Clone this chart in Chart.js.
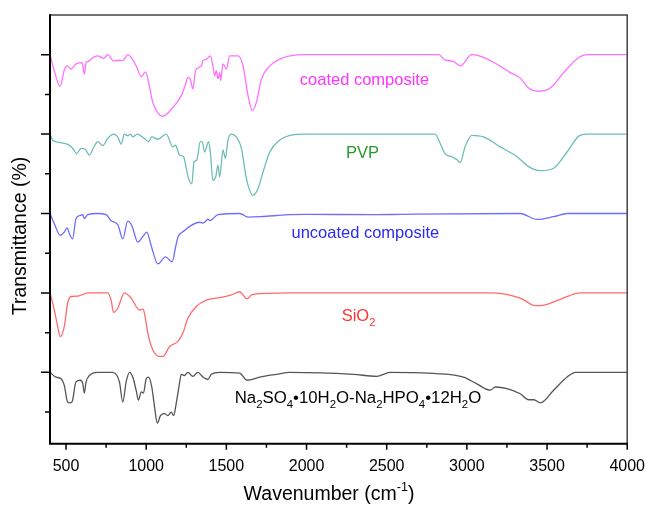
<!DOCTYPE html>
<html><head><meta charset="utf-8">
<script src="https://cdn.jsdelivr.net/npm/chart.js@4.4.1/dist/chart.umd.min.js"></script>
<style>html,body{margin:0;padding:0;background:#fff}#wrap{width:646px;height:505px}</style>
</head><body><div id="wrap"><canvas id="c" width="646" height="505"></canvas></div>
<script>
// ---- data (wavenumber in cm-1, relative transmittance drop in tick units) ----
const seriesNames = ["coated composite", "PVP", "uncoated composite", "SiO2", "Na2SO4•10H2O-Na2HPO4•12H2O"];
const seriesOffsets = [10, 8, 6, 4, 2];
const seriesColors = ["#ff70ff", "#6dbdb5", "#6e6eff", "#ff6b6b", "#555555"];

const coatedWn = [400,430,462,490,506,531,562,600,614,625,635,665,697,735,760,797,830,854,885,910,940,969,996,1020,1041,1070,1104,1166,1219,1245,1260,1275,1291,1308,1344,1354,1375,1400,1416,1427,1437,1448,1458,1464,1479,1500,1521,1573,1604,1635,1662,1687,1719,1771,1833,1896,2000,2823,2864,2916,2958,3031,3100,3166,3271,3333,3385,3448,3521,3604,3698,3750,4000];
const coatedT  = [0,-0.45,-0.80,-0.38,-0.28,-0.36,-0.23,-0.2,-0.49,-0.2,-0.18,-0.08,-0.03,-0.09,0,-0.16,-0.14,-0.15,0,-0.09,-0.3,-0.55,-0.43,-0.8,-1.2,-1.45,-1.55,-1.33,-1.03,-0.75,-0.57,-0.62,-0.86,-0.40,-0.28,-0.15,-0.12,-0.03,-0.28,-0.53,-0.4,-0.61,-0.45,-0.65,-0.23,-0.36,-0.03,-0.03,-0.28,-1.03,-1.41,-1.2,-0.61,-0.28,-0.11,-0.03,0,0,-0.13,-0.17,-0.28,0,-0.06,-0.19,-0.45,-0.59,-0.84,-0.92,-0.84,-0.45,-0.07,0,0];

const pvpWn = [400,416,458,510,540,566,594,619,646,670,698,729,760,797,822,844,864,885,902,916,944,989,1014,1035,1073,1100,1125,1166,1183,1208,1233,1250,1264,1285,1298,1316,1337,1350,1364,1389,1400,1416,1433,1448,1458,1479,1494,1510,1531,1562,1594,1625,1666,1698,1729,1771,1833,1896,2000,2802,2833,2864,2906,2937,2958,2989,3031,3104,3208,3313,3385,3458,3541,3625,3698,3750,4000];
const pvpT  = [0,-0.15,-0.21,-0.26,-0.35,-0.49,-0.36,-0.38,-0.53,-0.35,-0.19,-0.29,-0.11,0,-0.07,-0.25,0,-0.04,0,-0.07,0,-0.11,-0.19,-0.07,-0.13,-0.06,0,-0.32,-0.28,-0.53,-0.57,-0.86,-1.12,-1.25,-0.70,-0.65,-0.19,-0.2,-0.45,-0.19,-0.45,-1.16,-1.08,-0.78,-1.08,-0.40,-0.61,-0.15,0,-0.07,-0.36,-1.12,-1.54,-1.37,-0.95,-0.45,-0.15,-0.03,0,0,-0.23,-0.49,-0.57,-0.64,-0.72,-0.32,-0.03,-0.07,-0.32,-0.57,-0.82,-0.92,-0.86,-0.45,-0.05,0,0];

const uncoatedWn = [400,427,464,489,506,521,541,562,589,604,614,635,697,750,781,823,854,885,910,948,979,1004,1031,1073,1120,1162,1183,1198,1239,1281,1333,1354,1375,1385,1396,1448,1583,1635,1708,1812,1896,2000,2400,2600,3333,3438,3541,3625,4000];
const uncoatedT  = [0,-0.26,-0.55,-0.47,-0.36,-0.51,-0.64,-0.13,-0.05,-0.03,-0.13,-0.03,0,-0.03,-0.18,-0.28,-0.64,-0.19,-0.30,-0.72,-0.58,-0.47,-0.81,-1.27,-1.09,-1.22,-0.85,-0.60,-0.43,-0.30,-0.22,-0.24,-0.18,-0.14,-0.18,-0.03,0,-0.09,-0.08,-0.05,-0.03,-0.02,-0.03,-0.02,0,-0.15,-0.08,0,0];

const silicaWn = [400,427,448,464,489,510,531,573,635,760,781,797,823,864,906,958,979,989,1010,1041,1083,1104,1146,1198,1229,1260,1312,1375,1458,1531,1583,1604,1629,1656,1750,1896,3146,3333,3427,3458,3583,3708,4000];
const silicaT  = [0,-0.43,-0.85,-1.10,-0.85,-0.26,-0.09,-0.08,0,0,-0.18,-0.49,-0.38,0,-0.13,-0.43,-0.41,-0.51,-1.01,-1.43,-1.60,-1.60,-1.35,-1.22,-1.01,-0.64,-0.34,-0.18,-0.12,-0.05,0.03,-0.05,-0.15,-0.05,-0.01,0,0,-0.13,-0.32,-0.32,-0.16,0,0];

const saltWn = [400,437,469,489,510,527,539,562,589,604,614,625,646,697,791,833,854,875,896,916,937,952,969,983,1000,1014,1035,1052,1069,1089,1114,1135,1156,1171,1187,1204,1219,1239,1260,1291,1322,1354,1385,1406,1458,1583,1629,1708,1812,1896,2291,2437,2521,2812,2979,3062,3146,3177,3250,3333,3385,3417,3458,3541,3625,3677,4000];
const saltT  = [0,-0.12,-0.16,-0.33,-0.75,-0.77,-0.73,-0.24,-0.20,-0.28,-0.52,-0.24,-0.08,0,0,-0.24,-0.75,-0.24,0,-0.12,-0.45,-0.70,-0.49,-0.52,-0.16,-0.12,-0.37,-0.87,-1.28,-1.09,-1.04,-1.09,-1.0,-1.09,-0.79,-0.37,-0.05,-0.08,0,-0.10,0,-0.12,-0.18,-0.05,0,-0.02,-0.20,-0.12,-0.05,0,-0.05,-0.10,0,-0.03,-0.12,-0.29,-0.45,-0.37,-0.41,-0.54,-0.69,-0.69,-0.77,-0.45,-0.12,0,0];

const xTickMajor = [500,1000,1500,2000,2500,3000,3500,4000];
const xTickMinor = [750,1250,1750,2250,2750,3250,3750];
const yTickValues = [1,2,3,4,5,6,7,8,9,10];

// in-plot labels: segments [text, isSubscript]
const labelSegments = [
  [["coated composite",0]],
  [["PVP",0]],
  [["uncoated composite",0]],
  [["SiO",0],["2",1]],
  [["Na",0],["2",1],["SO",0],["4",1],["•10H",0],["2",1],["O-Na",0],["2",1],["HPO",0],["4",1],["•12H",0],["2",1],["O",0]]
];
const labelWn = [1958, 2246, 1906, 2219, 1552];
const labelY = [9.36, 7.52, 5.49, 3.40, 1.35];
const labelColors = ["#ff33ff", "#269a26", "#2a2aee", "#ff3333", "#000000"];
const labelSizes = [16.5, 16.5, 16.5, 16.5, 16.8];

const wnLists = [coatedWn, pvpWn, uncoatedWn, silicaWn, saltWn];
const tLists = [coatedT, pvpT, uncoatedT, silicaT, saltT];

const FONT = 'Arial, "Liberation Sans", sans-serif';

const datasets = seriesNames.map((name, s) => ({
  label: name,
  data: wnLists[s].map((w, i) => ({x: w, y: seriesOffsets[s] + tLists[s][i]})),
  borderColor: seriesColors[s],
  borderWidth: 1.3,
  pointRadius: 0,
  fill: false,
  cubicInterpolationMode: 'monotone'
}));

function drawSegments(ctx, segs, x, y, size, color) {
  ctx.fillStyle = color;
  ctx.textBaseline = 'middle';
  ctx.textAlign = 'left';
  let cx = x;
  for (const [t, sub] of segs) {
    if (sub) {
      ctx.font = (size * 0.68).toFixed(1) + 'px ' + FONT;
      ctx.fillText(t, cx, y + size * 0.38);
    } else {
      ctx.font = size + 'px ' + FONT;
      ctx.fillText(t, cx, y);
    }
    cx += ctx.measureText(t).width;
  }
}

const decor = {
  id: 'decor',
  afterDraw(chart) {
    const ctx = chart.ctx, a = chart.chartArea;
    const xs = chart.scales.x, ys = chart.scales.y;
    ctx.save();
    // frame
    ctx.strokeStyle = '#444';
    ctx.lineWidth = 1.5;
    ctx.beginPath();
    ctx.moveTo(a.left, a.top); ctx.lineTo(a.right, a.top); ctx.lineTo(a.right, a.bottom);
    ctx.stroke();
    ctx.strokeStyle = '#000';
    ctx.lineWidth = 2;
    ctx.beginPath();
    ctx.moveTo(a.left, a.top - 0.7); ctx.lineTo(a.left, a.bottom); ctx.lineTo(a.right + 0.7, a.bottom);
    ctx.stroke();
    // ticks
    ctx.lineWidth = 1.5;
    ctx.beginPath();
    for (const v of xTickMajor) { const p = xs.getPixelForValue(v); ctx.moveTo(p, a.bottom); ctx.lineTo(p, a.bottom + 6); }
    for (const v of xTickMinor) { const p = xs.getPixelForValue(v); ctx.moveTo(p, a.bottom); ctx.lineTo(p, a.bottom + 4); }
    for (const v of yTickValues) {
      const p = ys.getPixelForValue(v);
      const len = (v % 2 === 0) ? 9 : 5;
      ctx.moveTo(a.left, p); ctx.lineTo(a.left - len, p);
    }
    ctx.stroke();
    // in-plot labels
    labelSegments.forEach((segs, i) => {
      drawSegments(ctx, segs, xs.getPixelForValue(labelWn[i]), ys.getPixelForValue(labelY[i]), labelSizes[i], labelColors[i]);
    });
    // axis titles
    ctx.fillStyle = '#000';
    ctx.font = '19.5px ' + FONT;
    ctx.textBaseline = 'middle';
    const main = 'Wavenumber (cm', sup = '-1', end = ')';
    const wMain = ctx.measureText(main).width;
    const wEnd = ctx.measureText(end).width;
    ctx.font = '12.5px ' + FONT;
    const wSup = ctx.measureText(sup).width;
    const total = wMain + wSup + wEnd;
    let x0 = 329 - total / 2;
    const ty = 495;
    ctx.font = '19.5px ' + FONT; ctx.textAlign = 'left';
    ctx.fillText(main, x0, ty);
    ctx.font = '12.5px ' + FONT;
    ctx.fillText(sup, x0 + wMain, ty - 7);
    ctx.font = '19.5px ' + FONT;
    ctx.fillText(end, x0 + wMain + wSup, ty);
    ctx.translate(20.5, 236);
    ctx.rotate(-Math.PI / 2);
    ctx.textAlign = 'center';
    ctx.fillText('Transmittance (%)', 0, 0);
    ctx.restore();
  }
};

new Chart(document.getElementById('c'), {
  type: 'line',
  data: { datasets },
  options: {
    responsive: false,
    animation: false,
    events: [],
    layout: { padding: { left: 50, right: 6, top: 15, bottom: 28 } },
    plugins: { legend: { display: false }, tooltip: { enabled: false } },
    scales: {
      x: {
        type: 'linear', min: 400, max: 4000,
        afterBuildTicks: (scale) => { scale.ticks = xTickMajor.map(v => ({ value: v })); },
        grid: { display: true, drawOnChartArea: false, drawTicks: true, tickLength: 12, tickColor: 'rgba(0,0,0,0)', color: 'rgba(0,0,0,0)' },
        border: { display: false },
        ticks: { autoSkip: false, padding: 1, color: '#000', font: { size: 16, family: FONT }, maxRotation: 0, minRotation: 0, callback: (v) => String(v) }
      },
      y: {
        type: 'linear', min: 0.2, max: 11, display: false
      }
    }
  },
  plugins: [decor]
});
</script>
</body></html>
